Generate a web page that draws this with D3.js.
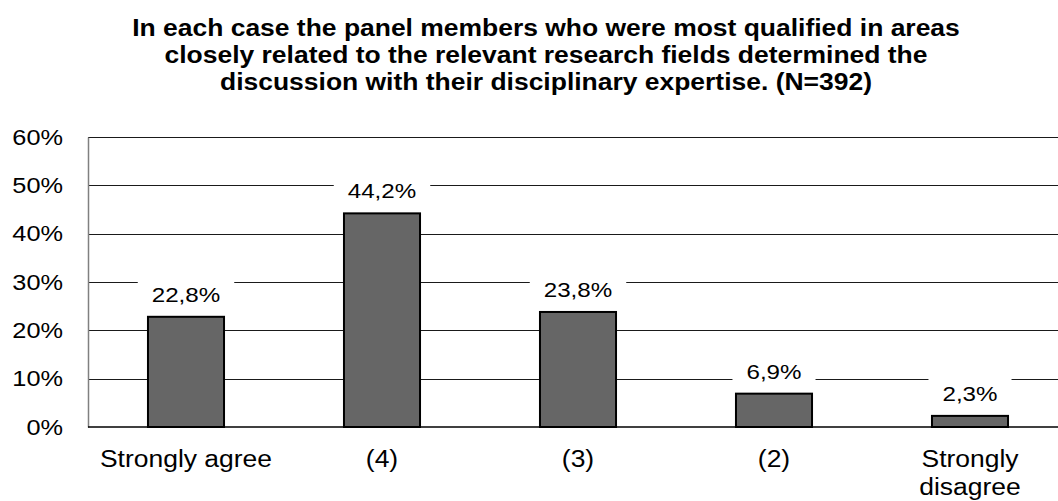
<!DOCTYPE html>
<html>
<head>
<meta charset="utf-8">
<script src="https://cdn.jsdelivr.net/npm/d3@7"></script>
<style>
  body { margin: 0; background: #fff; }
  svg { display: block; font-family: "Liberation Sans", Arial, sans-serif; }
</style>
</head>
<body>
<svg id="chart"></svg>
<script>
// chart data
const categories = ["Strongly agree", "(4)", "(3)", "(2)", "Strongly disagree"];
const values = [22.8, 44.2, 23.8, 6.9, 2.3];
const valueLabels = ["22,8%", "44,2%", "23,8%", "6,9%", "2,3%"];
const yTicks = [0, 10, 20, 30, 40, 50, 60];
const titleLines = [
    "In each case the panel members who were most qualified in areas",
    "closely related to the relevant research fields determined the",
    "discussion with their disciplinary expertise. (N=392)"
];

const width = 1058, height = 501;
const svg = d3.select("#chart").attr("width", width).attr("height", height);

// source text looks a bit wider than plain Arial
const stretchX = 1.15;
function widen(sel) {
    sel.each(function() {
        const w = this.getComputedTextLength();
        d3.select(this).attr("textLength", w * stretchX).attr("lengthAdjust", "spacingAndGlyphs");
    });
}

// plot runs slightly past the right edge, like the source image
const plotLeft = 88, plotRight = 1068, plotTop = 137, plotBottom = 427;

const xScale = d3.scaleBand()
    .domain(categories)
    .range([plotLeft, plotRight])
    .paddingInner(0.612)
    .paddingOuter(0.306);
const yScale = d3.scaleLinear()
    .domain([0, 60])
    .range([plotBottom, plotTop]);

// title
svg.append("g").selectAll("text").data(titleLines).join("text")
    .attr("x", 546)
    .attr("y", (d, i) => 36 + i * 27)
    .attr("text-anchor", "middle")
    .attr("font-weight", "bold")
    .attr("font-size", 23)
    .text(d => d)
    .call(widen);

// gridlines
svg.append("g").selectAll("line").data(yTicks.filter(t => t > 0)).join("line")
    .attr("x1", plotLeft).attr("x2", width)
    .attr("y1", d => Math.round(yScale(d)) + 0.5)
    .attr("y2", d => Math.round(yScale(d)) + 0.5)
    .attr("stroke", "#1a1a1a")
    .attr("stroke-width", 1);

// y axis
const yAxis = svg.append("g")
    .attr("transform", `translate(${plotLeft},0)`)
    .call(d3.axisLeft(yScale).tickValues(yTicks).tickSize(0).tickPadding(25).tickFormat(d => d + "%"));
yAxis.select(".domain").attr("stroke", "#808080").attr("stroke-width", 1.5);
yAxis.selectAll("text")
    .attr("font-family", "Liberation Sans, Arial, sans-serif")
    .attr("font-size", 22)
    .attr("fill", "#000")
    .call(widen);

// value label boxes (white, interrupt gridlines)
const labelG = svg.append("g");

// bars
svg.append("g").selectAll("rect").data(values).join("rect")
    .attr("x", (d, i) => xScale(categories[i]))
    .attr("y", d => yScale(d))
    .attr("width", xScale.bandwidth())
    .attr("height", d => yScale(0) - yScale(d))
    .attr("fill", "#666666")
    .attr("stroke", "#000")
    .attr("stroke-width", 2);

// baseline
svg.append("line")
    .attr("x1", plotLeft).attr("x2", width)
    .attr("y1", plotBottom).attr("y2", plotBottom)
    .attr("stroke", "#000")
    .attr("stroke-width", 1.5);

values.forEach((v, i) => {
    const cx = xScale(categories[i]) + xScale.bandwidth() / 2;
    const by = yScale(v) - 15;
    const t = labelG.append("text")
        .attr("x", cx)
        .attr("y", by)
        .attr("text-anchor", "middle")
        .attr("font-size", 21)
        .text(valueLabels[i]);
    const w = t.node().getComputedTextLength() * stretchX;
    t.attr("textLength", w).attr("lengthAdjust", "spacingAndGlyphs");
    labelG.insert("rect", "text")
        .attr("x", cx - w / 2 - 14)
        .attr("y", by - 22)
        .attr("width", w + 28)
        .attr("height", 27)
        .attr("fill", "#fff");
});

// category labels, last one wraps
svg.append("g").selectAll("text").data(categories).join("text")
    .attr("x", d => xScale(d) + xScale.bandwidth() / 2)
    .attr("y", 467)
    .attr("text-anchor", "middle")
    .attr("font-size", 23)
    .each(function(d) {
        const words = d === "Strongly disagree" ? ["Strongly", "disagree"] : [d];
        d3.select(this).selectAll("tspan").data(words).join("tspan")
            .attr("x", d3.select(this).attr("x"))
            .attr("dy", (w, j) => j === 0 ? 0 : 28)
            .text(w => w)
            .call(widen);
    });
</script>
</body>
</html>
